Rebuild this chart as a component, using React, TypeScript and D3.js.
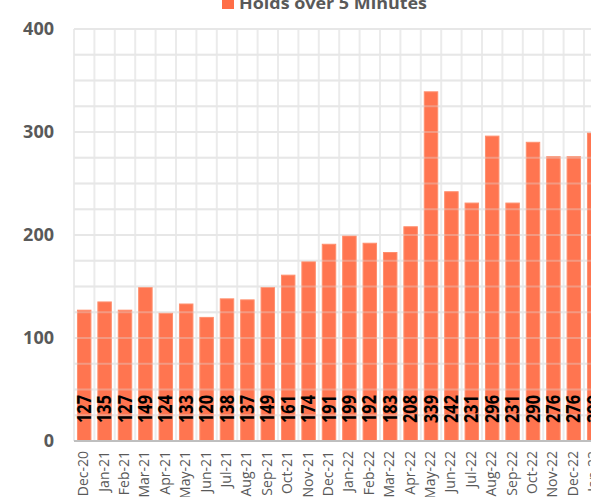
import React from 'react';
import * as d3 from 'd3';

const months = [
  'Dec-20', 'Jan-21', 'Feb-21', 'Mar-21', 'Apr-21', 'May-21', 'Jun-21', 'Jul-21', 'Aug-21',
  'Sep-21', 'Oct-21', 'Nov-21', 'Dec-21', 'Jan-22', 'Feb-22', 'Mar-22', 'Apr-22', 'May-22',
  'Jun-22', 'Jul-22', 'Aug-22', 'Sep-22', 'Oct-22', 'Nov-22', 'Dec-22', 'Jan-23',
];
const holds = [
  127, 135, 127, 149, 124, 133, 120, 138, 137, 149, 161, 174, 191, 199, 192, 183, 208, 339,
  242, 231, 296, 231, 290, 276, 276, 299,
];
const yTicks = [0, 100, 200, 300, 400];
const gridTicks = d3.range(0, 401, 25);

const W = 591;
const H = 497;
const STEP = 20.4;
const FONT = '"Open Sans", "Liberation Sans", Arial, sans-serif';

const App: React.FC = () => {
  const left = 74;
  const x = d3.scaleBand<string>()
    .domain(months)
    .range([left, left + STEP * months.length])
    .paddingInner(0.34)
    .paddingOuter(0.17);
  const y = d3.scaleLinear().domain([0, 400]).range([441, 29]);
  const right = left + STEP * months.length;
  const bounds = months.map((_, i) => left + i * STEP).concat([right]);

  return (
    <div style={{ position: 'absolute', left: 0, top: 0, width: W, height: H, overflow: 'hidden', background: '#fff' }}>
      <svg width={W} height={H} style={{ display: 'block', fontFamily: FONT }}>
        {/* legend */}
        <rect x={222} y={-3} width={12} height={12} fill="#ff6e47" />
        <text x={239} y={9} fontSize={16} fontWeight="bold" fill="#595959" textLength={188} lengthAdjust="spacingAndGlyphs">Holds over 5 Minutes</text>

        {/* gridlines */}
        {gridTicks.map(t => (
          <line key={'h' + t} x1={left} x2={right} y1={y(t)} y2={y(t)} stroke="#ebebeb" strokeWidth={2} />
        ))}
        {bounds.map((b, i) => (
          <line key={'v' + i} x1={b} x2={b} y1={y(400)} y2={y(0)} stroke="#ebebeb" strokeWidth={2} />
        ))}

        {/* bars */}
        {months.map((m, i) => (
          <rect key={m} x={x(m)} y={y(holds[i])} width={x.bandwidth()} height={y(0) - y(holds[i])}
            fill="#ff6e47" fillOpacity={0.95} stroke="#ff8f6e" strokeWidth={1} />
        ))}
        {gridTicks.filter(t => t > 0).map(t => (
          <line key={'o' + t} x1={left} x2={right} y1={y(t)} y2={y(t)} stroke="#e0e0e0" strokeOpacity={0.35} strokeWidth={2} />
        ))}

        {/* axis line */}
        <line x1={left} x2={right} y1={y(0)} y2={y(0)} stroke="#bfbfbf" strokeWidth={2} />

        {/* data labels */}
        {months.map((m, i) => {
          const cx = x(m)! + x.bandwidth() / 2;
          return (
            <text key={'l' + m} transform={`translate(${cx + 6.5},423) rotate(-90)`} fontSize={19}
              fontWeight="bold" fill="#000" textLength={28} lengthAdjust="spacingAndGlyphs">{holds[i]}</text>
          );
        })}

        {/* y labels */}
        {yTicks.map(t => (
          <text key={'y' + t} x={54} y={y(t)} dy="0.35em" textAnchor="end" fontSize={18}
            fontWeight="bold" fill="#595959">{t}</text>
        ))}

        {/* x labels */}
        {months.map(m => {
          const cx = x(m)! + x.bandwidth() / 2;
          return (
            <text key={'x' + m} transform={`translate(${cx + 4},451) rotate(-90)`} textAnchor="end"
              fontSize={14} fill="#595959">{m}</text>
          );
        })}
      </svg>
    </div>
  );
};

export default App;
